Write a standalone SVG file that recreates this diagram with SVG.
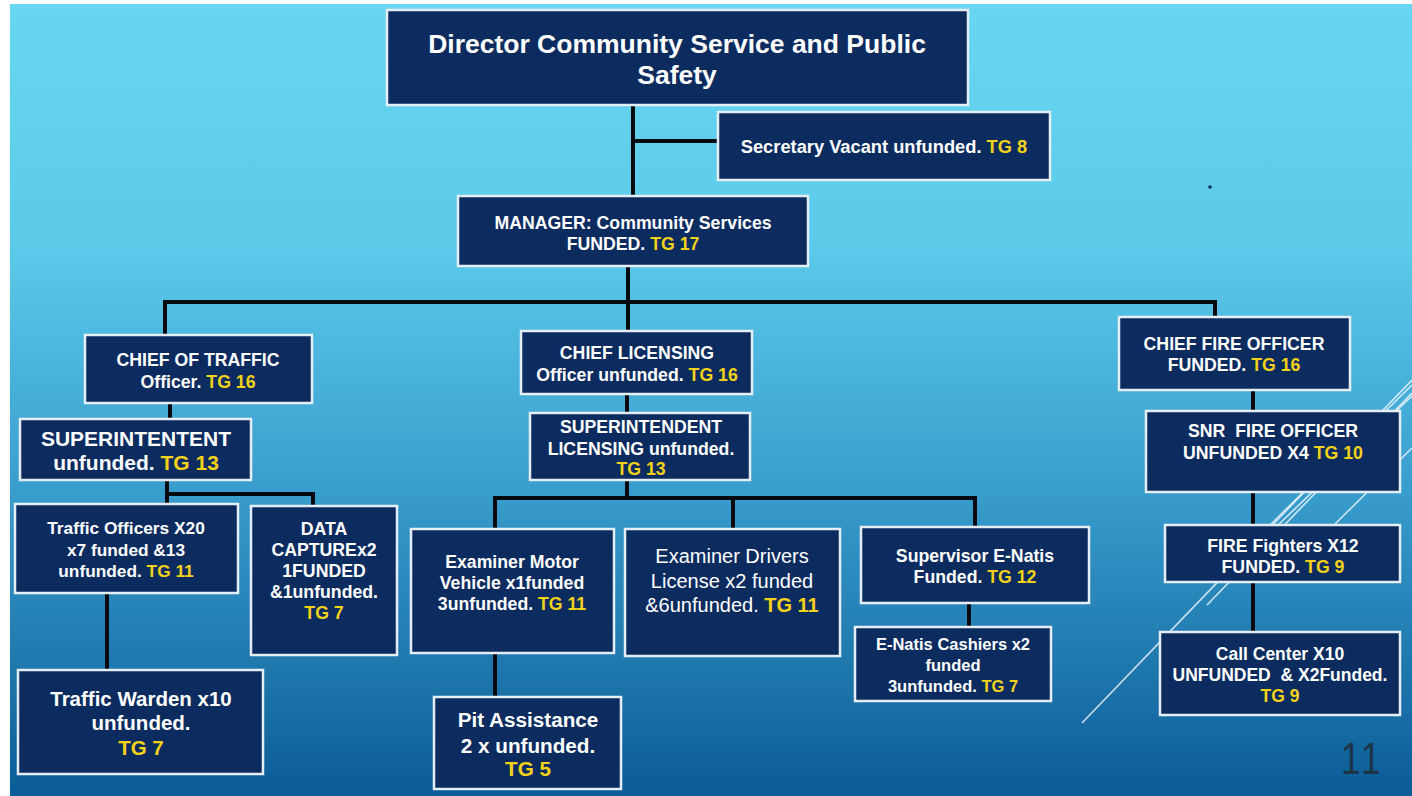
<svg xmlns="http://www.w3.org/2000/svg" width="1412" height="796" viewBox="0 0 1412 796">
<defs>
<linearGradient id="bg" x1="0" y1="0" x2="0" y2="1">
<stop offset="0" stop-color="#67d6f0"/>
<stop offset="0.3" stop-color="#5ccbea"/>
<stop offset="0.6" stop-color="#3a9fcf"/>
<stop offset="1" stop-color="#0b5c96"/>
</linearGradient>
<style>
.box{fill:#0c2c5f;stroke:#e6eef5;stroke-width:2.5}
.t{font-family:"Liberation Sans",Arial,sans-serif;font-weight:bold;fill:#ffffff;text-anchor:middle;font-size:17.7px}
.n{font-weight:normal;font-size:20px}
.y{fill:#f4d21a}
.yb{fill:#f4d21a;font-weight:bold}
.c{stroke:#050a10;stroke-width:4;fill:none}
.deco{stroke:#eaf6fb;stroke-width:1.6;fill:none;opacity:0.85}
</style>
</defs>
<rect x="0" y="0" width="1412" height="796" fill="#ffffff"/>
<rect x="10" y="4" width="1402" height="792" fill="url(#bg)"/>
<g id="decoration">
<line class="deco" x1="1082" y1="723" x2="1412" y2="380"/>
<line class="deco" x1="1207" y1="605" x2="1412" y2="393"/>
<line class="deco" x1="1270" y1="525" x2="1412" y2="385"/>
<line class="deco" x1="1276" y1="527" x2="1412" y2="396"/>
<line class="deco" x1="1335" y1="524" x2="1412" y2="448"/>
<circle cx="1210" cy="187" r="1.8" fill="#0c2c5f"/>
<text x="1363" y="774" font-family="Liberation Sans,Arial,sans-serif" font-size="44" fill="#1d3447" text-anchor="middle" letter-spacing="4" transform="scale(0.8,1) translate(340,0)">11</text>
</g>
<g id="connectors">
<path class="c" d="M633 95 V196 M633 141 H718"/>
<path class="c" d="M628 250 V302 M165 336 V302 H1215 V338 M628 302 V331"/>
<path class="c" d="M170 403 V419 M167 480 V504 M167 494 H313 V506 M107 593 V670"/>
<path class="c" d="M627 394 V413 M627 480 V498 M495 528 V498 H975 V527 M733 498 V529 M495 653 V697"/>
<path class="c" d="M969 594 V627"/>
<path class="c" d="M1253 390 V425 M1253 488 V525 M1253 582 V645"/>
</g>
<g id="director">
<rect class="box" x="387" y="10" width="581" height="95"/>
<text class="t" x="677" y="53" style="font-size:26.5px">Director Community Service and Public</text>
<text class="t" x="677" y="84" style="font-size:26.5px">Safety</text>
</g>
<g id="secretary">
<rect class="box" x="718" y="112" width="332" height="68"/>
<text class="t" x="884" y="152.5" style="font-size:18.3px">Secretary Vacant unfunded. <tspan class="y">TG 8</tspan></text>
</g>
<g id="manager">
<rect class="box" x="458" y="196" width="350" height="70"/>
<text class="t" x="633" y="228.5">MANAGER: Community Services</text>
<text class="t" x="633" y="249.5">FUNDED. <tspan class="y">TG 17</tspan></text>
</g>
<g id="chief-traffic">
<rect class="box" x="85" y="335" width="227" height="68"/>
<text class="t" x="198" y="365.5">CHIEF OF TRAFFIC</text>
<text class="t" x="198" y="387.5">Officer. <tspan class="y">TG 16</tspan></text>
</g>
<g id="superintentent">
<rect class="box" x="20" y="419" width="231" height="61"/>
<text class="t" x="136" y="445.5" style="font-size:21px">SUPERINTENTENT</text>
<text class="t" x="136" y="469.5" style="font-size:21px">unfunded. <tspan class="y">TG 13</tspan></text>
</g>
<g id="traffic-officers">
<rect class="box" x="15" y="504" width="223" height="89"/>
<text class="t" x="126" y="533.5" style="font-size:17.3px">Traffic Officers X20</text>
<text class="t" x="126" y="555.5" style="font-size:17.3px">x7 funded &amp;13</text>
<text class="t" x="126" y="576.5" style="font-size:17.3px">unfunded. <tspan class="y">TG 11</tspan></text>
</g>
<g id="data-capture">
<rect class="box" x="251" y="506" width="146" height="149"/>
<text class="t" x="324" y="534.5">DATA</text>
<text class="t" x="324" y="555.5">CAPTUREx2</text>
<text class="t" x="324" y="576.5">1FUNDED</text>
<text class="t" x="324" y="597.5">&amp;1unfunded.</text>
<text class="t y" x="324" y="618.5">TG 7</text>
</g>
<g id="traffic-warden">
<rect class="box" x="18" y="670" width="245" height="104"/>
<text class="t" x="141" y="705.5" style="font-size:20.5px">Traffic Warden x10</text>
<text class="t" x="141" y="729.5" style="font-size:20.5px">unfunded.</text>
<text class="t y" x="141" y="754.5" style="font-size:20.5px">TG 7</text>
</g>
<g id="chief-licensing">
<rect class="box" x="521" y="331" width="231" height="63"/>
<text class="t" x="637" y="358.5">CHIEF LICENSING</text>
<text class="t" x="637" y="380.5">Officer unfunded. <tspan class="y">TG 16</tspan></text>
</g>
<g id="superintendent-licensing">
<rect class="box" x="530" y="413" width="220" height="67"/>
<text class="t" x="641" y="432.5">SUPERINTENDENT</text>
<text class="t" x="641" y="454.5">LICENSING unfunded.</text>
<text class="t y" x="641" y="474.5">TG 13</text>
</g>
<g id="examiner-motor">
<rect class="box" x="411" y="529" width="203" height="124"/>
<text class="t" x="512" y="567.5">Examiner Motor</text>
<text class="t" x="512" y="588.5">Vehicle x1funded</text>
<text class="t" x="512" y="609.5">3unfunded. <tspan class="y">TG 11</tspan></text>
</g>
<g id="examiner-drivers">
<rect class="box" x="625" y="529" width="215" height="127"/>
<text class="t n" x="732" y="563">Examiner Drivers</text>
<text class="t n" x="732" y="588">License x2 funded</text>
<text class="t n" x="732" y="612">&amp;6unfunded. <tspan class="yb">TG 11</tspan></text>
</g>
<g id="pit-assistance">
<rect class="box" x="434" y="697" width="187" height="92"/>
<text class="t" x="528" y="726.5" style="font-size:20.7px">Pit Assistance</text>
<text class="t" x="528" y="752.5" style="font-size:20.7px">2 x unfunded.</text>
<text class="t y" x="528" y="775.5" style="font-size:20.7px">TG 5</text>
</g>
<g id="supervisor-enatis">
<rect class="box" x="861" y="527" width="228" height="76"/>
<text class="t" x="975" y="561.5">Supervisor E-Natis</text>
<text class="t" x="975" y="582.5">Funded. <tspan class="y">TG 12</tspan></text>
</g>
<g id="enatis-cashiers">
<rect class="box" x="855" y="627" width="196" height="74"/>
<text class="t" x="953" y="650" style="font-size:16.5px">E-Natis Cashiers x2</text>
<text class="t" x="953" y="671" style="font-size:16.5px">funded</text>
<text class="t" x="953" y="692" style="font-size:16.5px">3unfunded. <tspan class="y">TG 7</tspan></text>
</g>
<g id="chief-fire">
<rect class="box" x="1119" y="317" width="231" height="73"/>
<text class="t" x="1234" y="349.5">CHIEF FIRE OFFICER</text>
<text class="t" x="1234" y="370.5">FUNDED. <tspan class="y">TG 16</tspan></text>
</g>
<g id="snr-fire">
<rect class="box" x="1146" y="411" width="254" height="81"/>
<text class="t" x="1273" y="436.5" xml:space="preserve">SNR  FIRE OFFICER</text>
<text class="t" x="1273" y="458.5">UNFUNDED X4 <tspan class="y">TG 10</tspan></text>
</g>
<g id="fire-fighters">
<rect class="box" x="1165" y="525" width="235" height="57"/>
<text class="t" x="1283" y="551.5">FIRE Fighters X12</text>
<text class="t" x="1283" y="572.5">FUNDED. <tspan class="y">TG 9</tspan></text>
</g>
<g id="call-center">
<rect class="box" x="1160" y="632" width="240" height="83"/>
<text class="t" x="1280" y="659.5" style="font-size:17.5px">Call Center X10</text>
<text class="t" x="1280" y="680.5" style="font-size:17.5px" xml:space="preserve">UNFUNDED  &amp; X2Funded.</text>
<text class="t y" x="1280" y="701.5" style="font-size:17.5px">TG 9</text>
</g>
</svg>
